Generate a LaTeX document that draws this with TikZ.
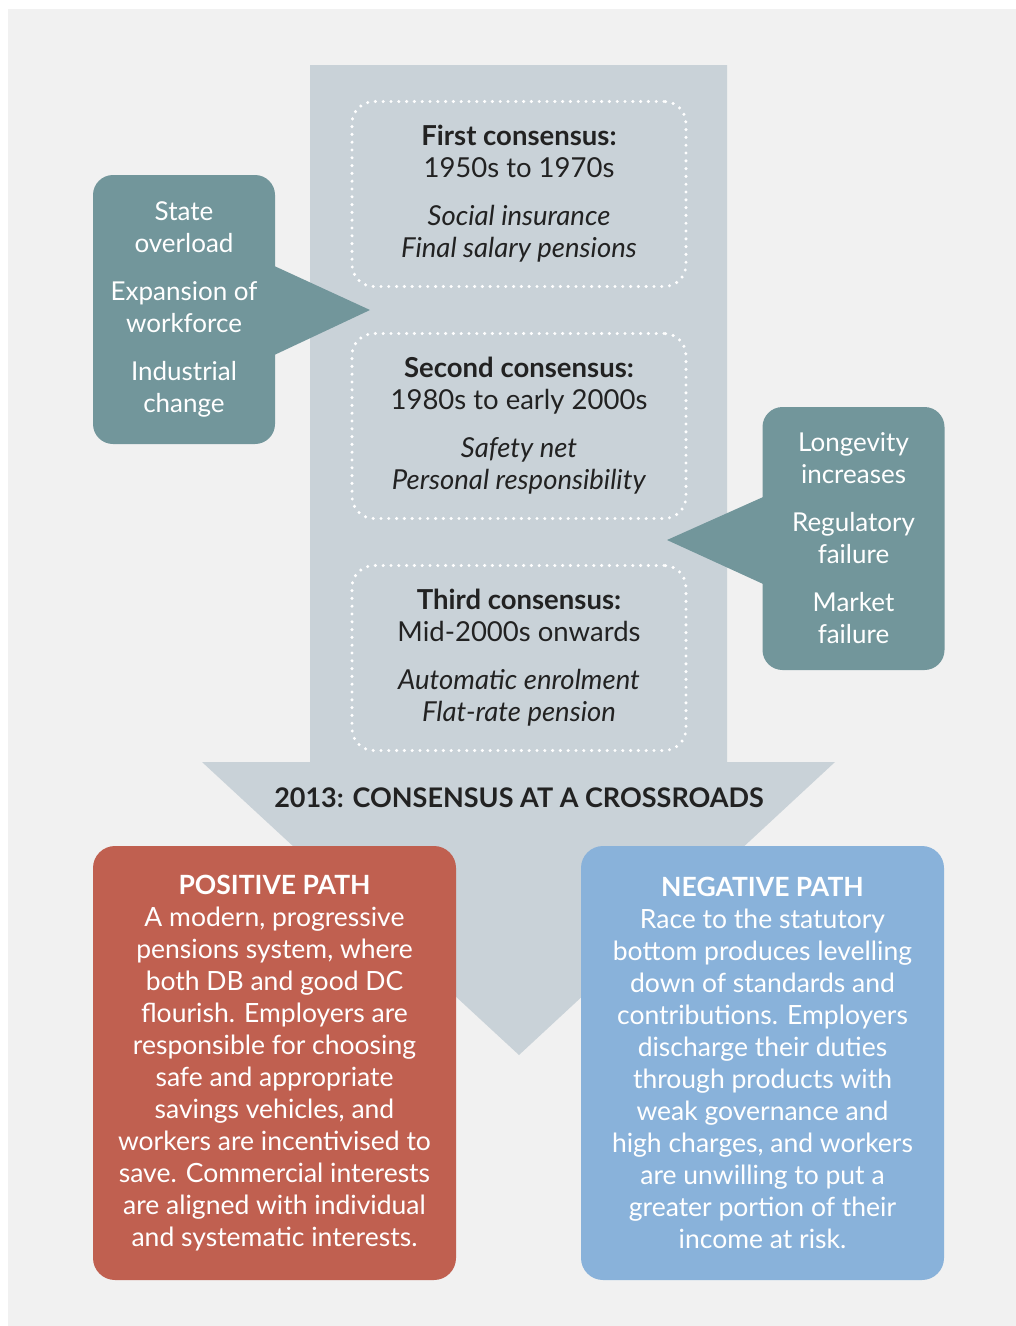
\documentclass[tikz,border=0pt]{standalone}
\usepackage{fontspec}
\setmainfont{Lato}
\usepackage{xcolor}
\usepackage{tikz}
\usetikzlibrary{positioning}
\definecolor{pagegray}{RGB}{241, 241, 241}
\definecolor{shaftgray}{RGB}{201, 210, 216}
\definecolor{calloutteal}{RGB}{114, 150, 155}
\definecolor{pathred}{RGB}{192, 96, 80}
\definecolor{pathblue}{RGB}{137, 178, 218}
\definecolor{inkdark}{RGB}{34, 34, 34}

\begin{document}
\begin{tikzpicture}[x=1pt, y=-1pt, node distance=43.6pt,
                era/.style={draw=white, line width=3.4pt, line cap=round,
                            dash pattern=on 0pt off 7.8pt, rounded corners=22pt,
                            minimum width=334pt, minimum height=185pt,
                            align=center, text=inkdark,
                            font=\fontsize{27.5}{32}\selectfont},
                driver/.style={fill=calloutteal, rounded corners=20pt,
                               minimum width=182pt, align=center, text=white,
                               font=\fontsize{26}{32}\selectfont},
                outcome/.style={rounded corners=22pt, minimum width=363pt,
                                minimum height=434pt, align=center, text=white,
                                font=\fontsize{26.5}{32}\selectfont}]
  \useasboundingbox (0,0) rectangle (1016,1326);
  \fill[pagegray] (8,9) rectangle (1016,1326);

  % big downward arrow behind the three eras
  \fill[shaftgray] (310,65) -- (727,65) -- (727,762) -- (835,762)
                   -- (519,1055) -- (202,762) -- (310,762) -- cycle;

  \node[era] (first) at (519,194)
        {\textbf{First consensus:}\\ 1950s to 1970s\\[16pt]
         \textit{Social insurance}\\ \textit{Final salary pensions}};
  \node[era, below=of first] (second)
        {\textbf{Second consensus:}\\ 1980s to early 2000s\\[16pt]
         \textit{Safety net}\\ \textit{Personal responsibility}};
  \node[era, below=of second] (third)
        {\textbf{Third consensus:}\\ Mid-2000s onwards\\[16pt]
         \textit{Automatic enrolment}\\ \textit{Flat-rate pension}};

  % pressures pushing into the arrow
  \node[driver, minimum height=269pt] (pushleft) at (184,309.5)
        {State\\ overload\\[16pt] Expansion of\\ workforce\\[16pt]
         Industrial\\ change};
  \coordinate (tipleft) at (370,310);
  \fill[calloutteal] ([xshift=-2pt, yshift=44pt]pushleft.east) -- (tipleft)
        -- ([xshift=-2pt, yshift=-46pt]pushleft.east) -- cycle;

  \node[driver, minimum height=263pt] (pushright) at (853.5,538.5)
        {Longevity\\ increases\\[16pt] Regulatory\\ failure\\[16pt]
         Market\\ failure};
  \coordinate (tipright) at (667,540);
  \fill[calloutteal] ([xshift=2pt, yshift=42pt]pushright.west) -- (tipright)
        -- ([xshift=2pt, yshift=-46pt]pushright.west) -- cycle;

  \node[text=inkdark, font=\fontsize{27}{32}\selectfont\bfseries] (crossroads)
        at (519,798) {2013: CONSENSUS AT A CROSSROADS};

  % the two ways forward
  \node[outcome, fill=pathred] (positive) at (274.5,1063)
        {\textbf{POSITIVE PATH}\\ A modern, progressive\\
         pensions system, where\\ both DB and good DC\\
         flourish. Employers are\\ responsible for choosing\\
         safe and appropriate\\ savings vehicles, and\\
         workers are incentivised to\\ save. Commercial interests\\
         are aligned with individual\\ and systematic interests.};
  \node[outcome, fill=pathblue] (negative) at (762.5,1063)
        {\textbf{NEGATIVE PATH}\\ Race to the statutory\\
         bottom produces levelling\\ down of standards and\\
         contributions. Employers\\ discharge their duties\\
         through products with\\ weak governance and\\
         high charges, and workers\\ are unwilling to put a\\
         greater portion of their\\ income at risk.};
\end{tikzpicture}
\end{document}
